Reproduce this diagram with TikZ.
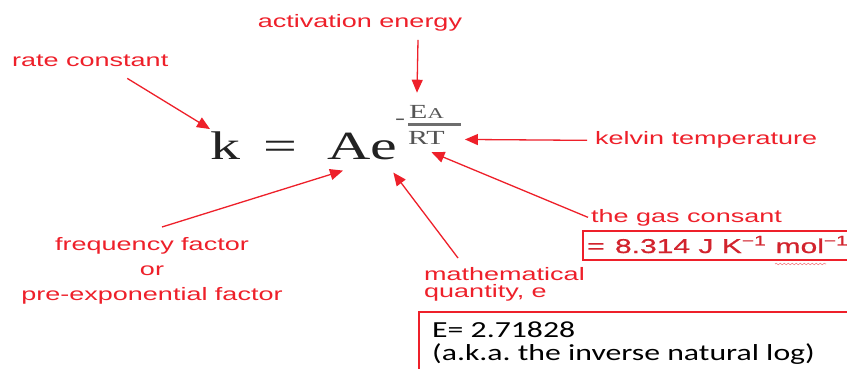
\documentclass[tikz,border=0pt]{standalone}
\usepackage{fontspec}
\usetikzlibrary{arrows.meta,decorations.pathmorphing}

\newfontfamily\lblfont[FakeStretch=1.5]{Liberation Sans}
\newfontfamily\gasfont[FakeStretch=1.5,FakeBold=0.8]{Liberation Sans}
\newfontfamily\eqfont[FakeStretch=1.5]{Liberation Serif}
\newfontfamily\boxfont[FakeStretch=1.38]{Carlito}

\definecolor{lblred}{RGB}{238,32,42}
\definecolor{gasred}{RGB}{210,35,45}
\definecolor{eqblack}{RGB}{34,34,34}
\definecolor{eqgray}{RGB}{85,85,85}

\tikzset{
  lbl/.style={inner sep=0, text=lblred, font=\lblfont\fontsize{18}{24}\selectfont},
  eqn/.style={inner sep=0, anchor=base west, text=eqblack, font=\eqfont\fontsize{40}{40}\selectfont},
  expo/.style={inner sep=0, anchor=base west, text=eqgray, font=\eqfont\fontsize{20}{20}\selectfont},
  arr/.style={lblred, line width=1.3pt, -{Triangle[length=13pt,width=11pt]}},
  boxline/.style={draw=lblred, line width=1.2pt}
}

\begin{document}
\frenchspacing
\begin{tikzpicture}[x=1pt,y=-1pt]
  \useasboundingbox (0,0) rectangle (847,369);
  \clip (0,0) rectangle (847,369);
  \fill[white] (0,0) rectangle (847,369);

  % Equation
  \node[eqn] (k) at (210,160) {k};
  \node[eqn] (eq) at (263,160) {=};
  \node[eqn] (Ae) at (327,160) {Ae};
  \node[expo, anchor=center] (minus) at (400,122) {-};
  \node[expo] (EA) at (409,118) {E\raisebox{-1pt}{\fontsize{15}{15}\selectfont A}};
  \node[expo] (RT) at (408,145) {RT};
  \draw[eqgray!85, line width=3.3pt] ([shift={(0,-7)}]RT.north west) -- ([shift={(16,-7)}]RT.north east);

  % Labels
  \node[lbl, anchor=base west] (rate) at (12,67) {rate constant};
  \node[lbl, anchor=base] (act) at (360,28) {activation energy};
  \node[lbl, anchor=base west] (kel) at (595,145) {kelvin temperature};
  \node[lbl, anchor=base west] (gas) at (591,222) {the gas consant};
  \node[lbl, anchor=north west, align=left, font=\lblfont\fontsize{18}{17.5}\selectfont] (mq) at (424,267) {mathematical\\quantity, e};
  \node[lbl, anchor=north, align=center, font=\lblfont\fontsize{18}{25}\selectfont] (freq) at (152,237) {frequency factor\\or\\pre-exponential factor};

  % Boxes (run past the right edge)
  \draw[boxline] (583,231) rectangle (900,260);
  \node[inner sep=0, anchor=base west, text=gasred, font=\gasfont\fontsize{20}{20}\selectfont] (gasval) at (587,253)
        {=\hspace{2pt} 8.314 J K\textsuperscript{\char"2212 1}\hspace{1pt} mol\textsuperscript{\char"2212 1}};
  \draw[lblred!55, line width=0.6pt, decorate, decoration={snake, amplitude=0.8pt, segment length=4pt}]
        (775,264) -- (826,264);
  \draw[boxline] (419,312) rectangle (900,400);
  \node[inner sep=0, anchor=base west, align=left, text=black, font=\boxfont\fontsize{23}{23}\selectfont] (eval) at (432,360)
        {E= 2.71828\\(a.k.a. the inverse natural log)};

  % Arrows
  \draw[arr] ([shift={(37,11)}]rate.south) -- ([shift={(0,-3)}]k.north west);
  \draw[arr] ([shift={(58,8)}]act.south) -- ([shift={(8,-12)}]EA.north west);
  \draw[arr] ([shift={(-8,0)}]kel.west) -- ([shift={(20,1)}]RT.east);
  \draw[arr] ([shift={(-3,0)}]gas.west) -- ([shift={(5,7)}]RT.south);
  \draw[arr] ([shift={(34,-9)}]mq.north west) -- ([shift={(-4,12)}]Ae.south east);
  \draw[arr] ([shift={(10,-10)}]freq.north) -- ([shift={(16,10)}]Ae.south west);
\end{tikzpicture}
\end{document}
